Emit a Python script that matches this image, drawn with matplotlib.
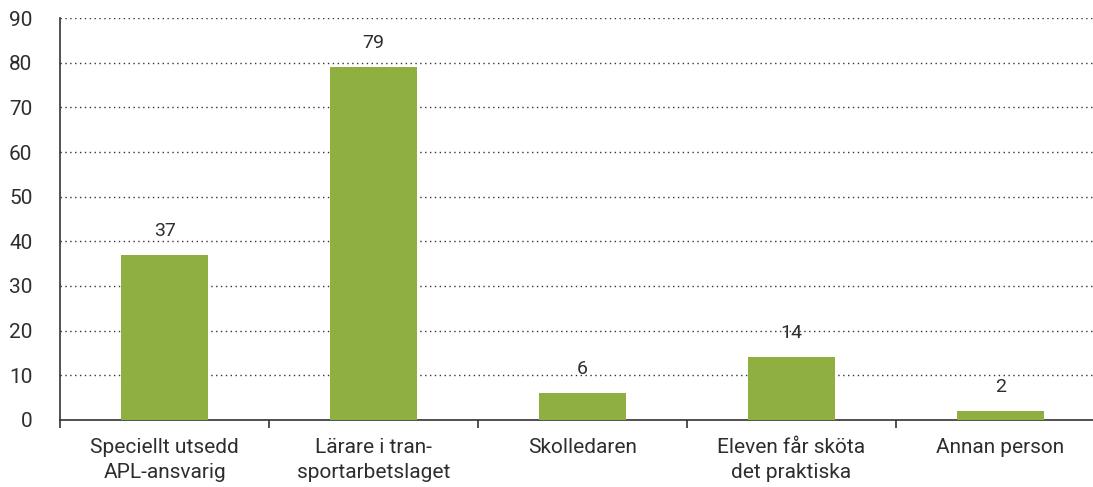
import numpy as np
import matplotlib.pyplot as plt

# Data
categories = ['Speciellt utsedd\nAPL-ansvarig', 'Lärare i tran-\nsportarbetslaget', 'Skolledaren',
              'Eleven får sköta\ndet praktiska', 'Annan person']
values = [37, 79, 6, 14, 2]
yticks = [0, 10, 20, 30, 40, 50, 60, 70, 80, 90]

plt.rcParams['font.family'] = ['Roboto', 'DejaVu Sans']
text_col = '#2e2e2e'
bar_col = '#8fb040'

fig = plt.figure(figsize=(10.93, 4.87), dpi=100)
ax = fig.add_axes([0.055, 0.1376, 0.956, 0.8254])

x = np.arange(len(values))
bars = ax.bar(x, values, width=0.42, color=bar_col, zorder=3)
for xi, v in zip(x, values):
    ax.text(xi, v + 3.4, str(v), ha='center', va='bottom', fontsize=14, color=text_col)

ax.set_xlim(-0.5, len(values) - 0.5)
ax.set_ylim(0, 90)

ax.set_yticks(yticks)
ax.set_yticklabels([str(t) for t in yticks], fontsize=15, color=text_col)
ax.tick_params(axis='y', length=0, pad=20)
ax.yaxis.grid(True, linestyle=(0, (1, 2.5)), color='#333333', linewidth=1.0, zorder=0)

# category boundaries as ticks, labels at centres
ax.set_xticks(np.arange(-0.5, len(values) + 0.5, 1))
ax.set_xticklabels([])
ax.tick_params(axis='x', which='major', length=6, width=1.2, color='#333333', direction='out')
ax.set_xticks(x, minor=True)
ax.set_xticklabels(categories, minor=True, fontsize=15, color=text_col, linespacing=1.4)
ax.tick_params(axis='x', which='minor', length=0, pad=13)

for s in ['top', 'right']:
    ax.spines[s].set_visible(False)
ax.spines['left'].set_color('#333333')
ax.spines['bottom'].set_color('#333333')
ax.spines['left'].set_linewidth(1.2)
ax.spines['bottom'].set_linewidth(1.2)

fig.savefig('out.png', dpi=100)
